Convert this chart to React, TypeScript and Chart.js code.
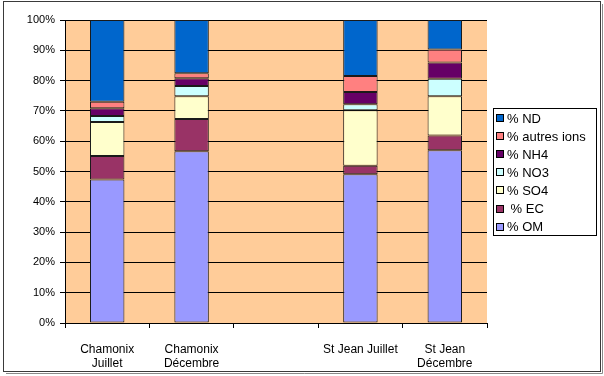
import React, { useEffect, useRef } from "react";
import { Chart, registerables } from "chart.js";

Chart.register(...registerables);

const categories: (string | string[])[] = [
  ["Chamonix", "Juillet"],
  ["Chamonix", "Décembre"],
  "",
  "St Jean Juillet",
  ["St Jean", "Décembre"],
];

const omValues = [47.4, 56.7, null, 49.1, 57.0];
const ecValues = [7.7, 10.6, null, 2.8, 4.9];
const so4Values = [11.2, 7.5, null, 18.3, 12.9];
const no3Values = [2.0, 3.4, null, 2.0, 5.8];
const nh4Values = [2.6, 2.6, null, 4.0, 5.4];
const autresValues = [2.1, 1.6, null, 5.3, 4.3];
const ndValues = [27.0, 17.6, null, 18.5, 9.7];

const seriesLabels = ["% OM", " % EC", "% SO4", "% NO3", "% NH4", "% autres ions", "% ND"];
const seriesColors = ["#9999FF", "#993366", "#FFFFCC", "#CCFFFF", "#660066", "#FF8080", "#0066CC"];
const yTicks = [0, 10, 20, 30, 40, 50, 60, 70, 80, 90, 100];

const FONT = "'Liberation Sans', Arial, sans-serif";

const framePlugin = {
  id: "frame",
  beforeDraw(chart: any) {
    const { ctx, chartArea } = chart;
    ctx.save();
    ctx.fillStyle = "#FFFFFF";
    ctx.fillRect(0, 0, chart.width, chart.height);
    ctx.fillStyle = "#FFCC99";
    ctx.fillRect(chartArea.left, chartArea.top, chartArea.right - chartArea.left, chartArea.bottom - chartArea.top);
    ctx.restore();
  },
  afterDraw(chart: any) {
    const { ctx } = chart;
    ctx.save();
    // outer frame
    ctx.strokeStyle = "#3a3a3a";
    ctx.lineWidth = 1;
    ctx.strokeRect(3.5, 1.5, 597, 370);
    ctx.strokeStyle = "#8a8a8a";
    ctx.beginPath();
    ctx.moveTo(6, 373.5);
    ctx.lineTo(602.5, 373.5);
    ctx.lineTo(602.5, 4);
    ctx.stroke();

    // legend
    const left = 493;
    const top = 108;
    const w = 103;
    const h = 127;
    ctx.strokeStyle = "#000000";
    ctx.lineWidth = 1;
    ctx.fillStyle = "#FFFFFF";
    ctx.fillRect(left, top, w, h);
    ctx.strokeRect(left + 0.5, top + 0.5, w, h);
    const ds = chart.data.datasets;
    ctx.font = `13px ${FONT}`;
    ctx.textBaseline = "middle";
    ctx.textAlign = "left";
    for (let i = 0; i < ds.length; i++) {
      const d = ds[ds.length - 1 - i];
      const y = 118 + i * 18.1;
      ctx.fillStyle = d.backgroundColor;
      ctx.fillRect(496, Math.round(y) - 4, 8, 8);
      ctx.strokeStyle = "#000000";
      ctx.strokeRect(496.5, Math.round(y) - 3.5, 7, 7);
      ctx.fillStyle = "#000000";
      ctx.fillText(d.label, 507, y + 1);
    }
    ctx.restore();
  },
};

export default function App() {
  const ref = useRef<HTMLCanvasElement>(null);
  useEffect(() => {
    if (!ref.current) return;
    const allSeries = [omValues, ecValues, so4Values, no3Values, nh4Values, autresValues, ndValues];
    const chart = new Chart(ref.current, {
      type: "bar",
      data: {
        labels: categories,
        datasets: allSeries.map((vals, i) => ({
          label: seriesLabels[i],
          data: vals,
          backgroundColor: seriesColors[i],
          borderColor: "#1a1a1a",
          borderWidth: 1,
          borderSkipped: false,
          categoryPercentage: 0.8,
          barPercentage: 0.51,
        })),
      },
      options: {
        responsive: false,
        animation: false,
        devicePixelRatio: 1,
        layout: { padding: { left: 0, top: 20, right: 117, bottom: 0 } },
        plugins: { legend: { display: false }, tooltip: { enabled: false } },
        scales: {
          x: {
            stacked: true,
            offset: true,
            afterFit(scale: any) {
              scale.height = 53;
            },
            grid: {
              display: true,
              offset: true,
              drawOnChartArea: false,
              drawTicks: true,
              tickLength: 5,
              color: "#000000",
            },
            border: { display: true, color: "#000000" },
            ticks: {
              color: "#000000",
              font: { family: FONT, size: 12 },
              padding: 14,
              maxRotation: 0,
              autoSkip: false,
            },
          },
          y: {
            stacked: true,
            min: 0,
            max: 100,
            afterFit(scale: any) {
              scale.width = 65;
            },
            afterBuildTicks(scale: any) {
              scale.ticks = yTicks.map((v) => ({ value: v }));
            },
            grid: {
              color: "#000000",
              drawTicks: true,
              tickLength: 5,
            },
            border: { display: true, color: "#000000" },
            ticks: {
              color: "#000000",
              font: { family: FONT, size: 11 },
              padding: 5,
              callback: (v: any) => `${v}%`,
            },
          },
        },
      },
      plugins: [framePlugin],
    });
    return () => chart.destroy();
  }, []);
  return (
    <div style={{ position: "fixed", left: 0, top: 0, width: 604, height: 376 }}>
      <canvas ref={ref} width={604} height={376} style={{ width: 604, height: 376, display: "block" }} />
    </div>
  );
}
